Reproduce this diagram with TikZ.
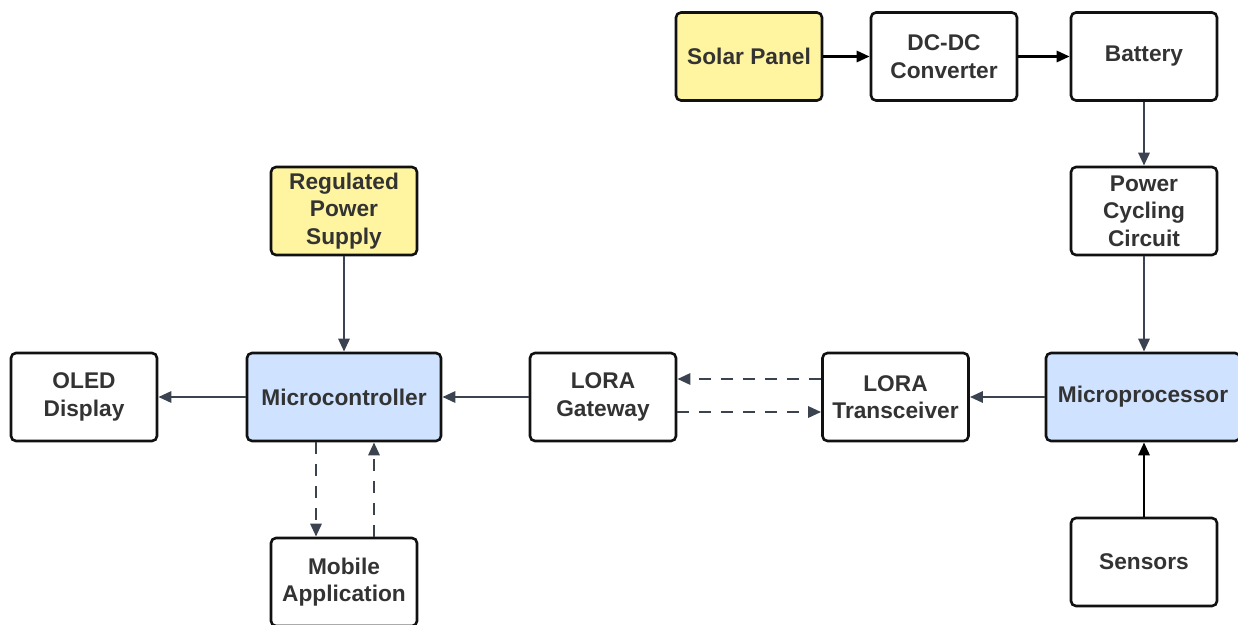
\documentclass[tikz,border=0pt]{standalone}
\usepackage{fontspec}
\setmainfont{Liberation Sans}
\usetikzlibrary{arrows.meta}
\definecolor{boxline}{HTML}{111111}
\definecolor{labeltext}{HTML}{333333}
\definecolor{wire}{HTML}{3B4350}
\definecolor{sunfill}{HTML}{FFF5A0}
\definecolor{chipfill}{HTML}{CFE2FF}
\tikzset{
  block/.style={draw=boxline, line width=2.6pt, rounded corners=5pt, fill=white,
    minimum width=146pt, minimum height=88pt, align=center, inner sep=2pt,
    text=labeltext, font=\bfseries\fontsize{22.7}{27.5}\selectfont},
  power/.style={block, fill=sunfill},
  chip/.style={block, fill=chipfill, minimum width=194pt},
  link/.style={draw=wire, line width=2.8pt, -{Triangle[length=13pt,width=11pt]}},
  darklink/.style={link, draw=black},
  radio/.style={link, dash pattern=on 12pt off 10pt},
}
\begin{document}
\begin{tikzpicture}[x=1pt,y=-1pt]
\useasboundingbox (0,0) rectangle (1238,624);
\clip (0,0) rectangle (1238,624);

% solar charging chain
\node[power] (solar) at (749,56.5) {Solar Panel};
\node[block] (dcdc) at (944,56.5) {DC-DC\\Converter};
\node[block] (battery) at (1144,56.5) {Battery};
\node[block] (cycling) at (1144,211) {Power\\Cycling\\Circuit};
\node[chip] (mproc) at (1143,397) {Microprocessor};
\node[block] (sensors) at (1144,562) {Sensors};

% radio link
\node[block] (transceiver) at (895.5,397) {LORA\\Transceiver};
\node[block] (gateway) at (603,397) {LORA\\Gateway};

% receiving side
\node[chip] (mctrl) at (344,397) {Microcontroller};
\node[power] (supply) at (344,211) {Regulated\\Power\\Supply};
\node[block] (oled) at (84,397) {OLED\\Display};
\node[block] (mobile) at (344,582) {Mobile\\Application};

% connectors
\draw[darklink] (solar) -- (dcdc);
\draw[darklink] (dcdc) -- (battery);
\draw[link] (battery) -- (cycling);
\draw[link] (cycling.south) -- (cycling.south |- mproc.north);
\draw[darklink] (sensors.north) -- (sensors.north |- mproc.south);
\draw[link] (mproc) -- (transceiver);
\draw[radio] ([yshift=18pt]transceiver.west) -- ([yshift=18pt]gateway.east);
\draw[radio] ([yshift=-15pt]gateway.east) -- ([yshift=-15pt]transceiver.west);
\draw[link] (gateway) -- (mctrl);
\draw[link] (supply) -- (mctrl);
\draw[link] (mctrl) -- (oled);
\draw[radio] ([xshift=-28pt]mctrl.south) -- ([xshift=-28pt]mobile.north);
\draw[radio] ([xshift=30pt]mobile.north) -- ([xshift=30pt]mctrl.south);
\end{tikzpicture}
\end{document}
